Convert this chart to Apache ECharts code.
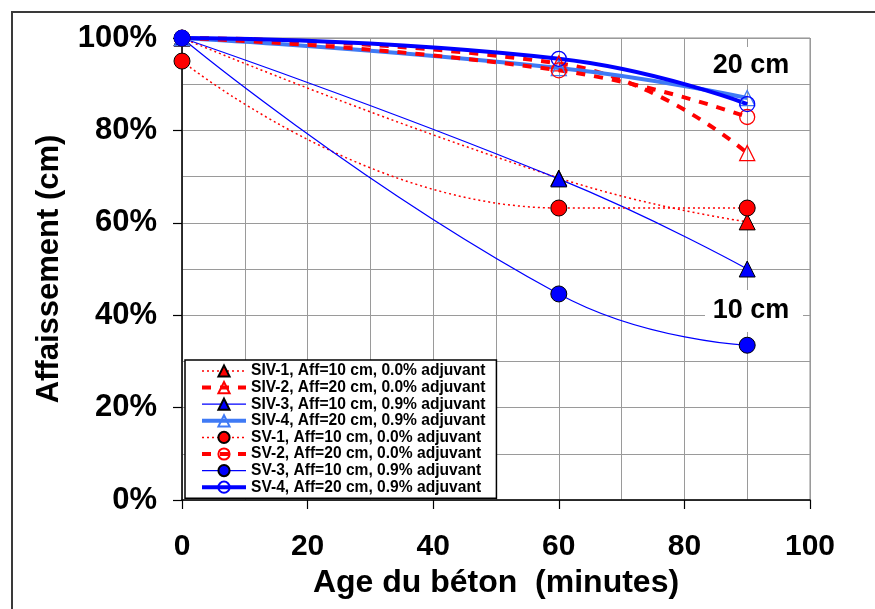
<!DOCTYPE html>
<html>
<head>
<meta charset="utf-8">
<script src="https://cdn.jsdelivr.net/npm/echarts@6/dist/echarts.min.js"></script>
<style>
  html, body { margin: 0; padding: 0; background: #fff; }
  #chart { width: 875px; height: 609px; }
</style>
</head>
<body>
<div id="chart"></div>
<script>
// Age du béton (minutes)
var ages = [0, 60, 90];

// affaissement relatif (%)
var siv1 = [100, 69.7, 60.2];
var siv2 = [100, 94.5, 75.1];
var siv3 = [100, 69.5, 50.0];
var siv4 = [100, 93.5, 87.0];
var sv1 = [95, 63.2, 63.2];
var sv2 = [100, 93.0, 82.9];
var sv3 = [100, 44.6, 33.5];
var sv4 = [100, 95.5, 85.7];

var names = [
    'SIV-1, Aff=10 cm, 0.0% adjuvant',
    'SIV-2, Aff=20 cm, 0.0% adjuvant',
    'SIV-3, Aff=10 cm, 0.9% adjuvant',
    'SIV-4, Aff=20 cm, 0.9% adjuvant',
    'SV-1, Aff=10 cm, 0.0% adjuvant',
    'SV-2, Aff=20 cm, 0.0% adjuvant',
    'SV-3, Aff=10 cm, 0.9% adjuvant',
    'SV-4, Aff=20 cm, 0.9% adjuvant'
];

var RED = '#ff0000', BLUE = '#0000ff', LBLUE = '#3f7af5';
var FONT = '"Liberation Sans", Arial, sans-serif';

function pairs(vals) {
    return ages.map(function (a, i) { return [a, vals[i]]; });
}

function mkSeries(name, vals, color, symbol, filled, lineType, width) {
    return {
        name: name,
        type: 'line',
        smooth: 0.5,
        data: pairs(vals),
        symbol: symbol,
        symbolSize: filled ? 16 : 15,
        lineStyle: { color: color, width: width, type: lineType },
        itemStyle: filled
            ? { color: color, borderColor: '#000', borderWidth: 1 }
            : { color: 'rgba(255,255,255,0)', borderColor: color, borderWidth: 1.3 },
        emphasis: { disabled: true }
    };
}

var series = [
    mkSeries(names[0], siv1, RED, 'triangle', true, [2, 3], 1.5),
    mkSeries(names[1], siv2, RED, 'triangle', false, [9, 9], 4),
    mkSeries(names[2], siv3, BLUE, 'triangle', true, 'solid', 1.2),
    mkSeries(names[3], siv4, LBLUE, 'triangle', false, 'solid', 4),
    mkSeries(names[4], sv1, RED, 'circle', true, [2, 3], 1.5),
    mkSeries(names[5], sv2, RED, 'circle', false, [9, 9], 4),
    mkSeries(names[6], sv3, BLUE, 'circle', true, 'solid', 1.2),
    mkSeries(names[7], sv4, BLUE, 'circle', false, 'solid', 4)
];

var legendData = series.map(function (s) {
    return {
        name: s.name,
        lineStyle: { width: s.lineStyle.width, color: s.lineStyle.color, type: s.lineStyle.type }
    };
});

var chart = echarts.init(document.getElementById('chart'));
chart.setOption({
    animation: false,
    backgroundColor: '#fff',
    textStyle: { fontFamily: FONT },
    grid: {
        left: 182, right: 65, top: 38, bottom: 109,
        show: true, borderColor: '#8c8c8c', borderWidth: 1
    },
    xAxis: {
        type: 'value', min: 0, max: 100, interval: 20,
        name: 'Age du béton  (minutes)',
        nameLocation: 'middle', nameGap: 51,
        nameTextStyle: { fontSize: 32, fontWeight: 'bold', color: '#000', fontFamily: FONT },
        axisLine: { show: true, lineStyle: { color: '#000', width: 1.5 } },
        axisTick: { show: true, inside: false, length: 9, lineStyle: { color: '#000', width: 1.2 } },
        axisLabel: { fontSize: 30, fontWeight: 'bold', color: '#000', margin: 32, fontFamily: FONT },
        splitLine: { show: true, lineStyle: { color: '#9a9a9a', width: 1 } },
        minorTick: { show: false, splitNumber: 2 },
        minorSplitLine: { show: true, lineStyle: { color: '#9a9a9a', width: 1 } }
    },
    yAxis: {
        type: 'value', min: 0, max: 100, interval: 20,
        name: 'Affaissement (cm)',
        nameLocation: 'middle', nameGap: 117, nameRotate: 90,
        nameTextStyle: { fontSize: 31, fontWeight: 'bold', color: '#000', fontFamily: FONT },
        axisLine: { show: true, lineStyle: { color: '#000', width: 1.5 } },
        axisTick: { show: true, inside: false, length: 9, lineStyle: { color: '#000', width: 1.2 } },
        axisLabel: { fontSize: 31, fontWeight: 'bold', color: '#000', margin: 25, formatter: '{value}%', fontFamily: FONT },
        splitLine: { show: true, lineStyle: { color: '#9a9a9a', width: 1 } },
        minorTick: { show: false, splitNumber: 2 },
        minorSplitLine: { show: true, lineStyle: { color: '#9a9a9a', width: 1 } }
    },
    legend: {
        orient: 'vertical',
        left: 185, top: 360,
        data: legendData,
        itemWidth: 44, itemHeight: 14, itemGap: 0.6,
        padding: [3, 11, 3, 15],
        backgroundColor: '#fff',
        borderColor: '#000', borderWidth: 1.5,
        selectedMode: false,
        textStyle: { fontSize: 15.6, fontWeight: 'bold', color: '#000', lineHeight: 14, fontFamily: FONT }
    },
    graphic: [
        { type: 'rect', shape: { x: 12, y: 12, width: 870, height: 610 }, style: { fill: 'none', stroke: '#3a3a3a', lineWidth: 2 }, z: 100, silent: true },
        { type: 'rect', shape: { x: 705, y: 47, width: 98, height: 37 }, style: { fill: '#fff' }, z: 50, silent: true },
        { type: 'text', x: 751, y: 66, style: { text: '20 cm', font: 'bold 27px ' + FONT, fill: '#000', align: 'center', verticalAlign: 'middle' }, z: 51, silent: true },
        { type: 'rect', shape: { x: 705, y: 290, width: 98, height: 42 }, style: { fill: '#fff' }, z: 50, silent: true },
        { type: 'text', x: 751, y: 311, style: { text: '10 cm', font: 'bold 27px ' + FONT, fill: '#000', align: 'center', verticalAlign: 'middle' }, z: 51, silent: true }
    ],
    series: series
});
</script>
</body>
</html>
